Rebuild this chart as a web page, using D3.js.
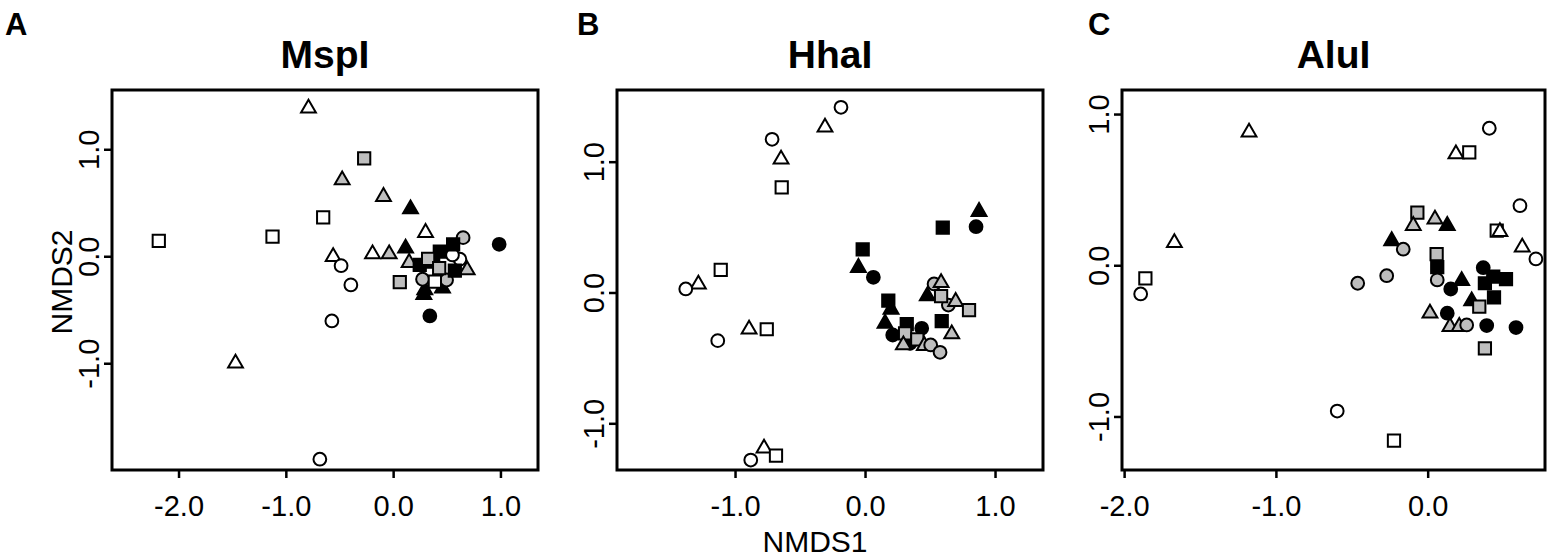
<!DOCTYPE html>
<html>
<head>
  <meta charset="utf-8">
  <title>NMDS</title>
  <style type="text/css">
    body { margin: 0; background: #fff; }
    text { font-family: "Liberation Sans", Arial, sans-serif; fill: #000; }
  </style>
</head>
<body>
<div id="my_dataviz"></div>
<script src="https://d3js.org/d3.v7.min.js"></script>
<script type="text/javascript">

// panel titles, letters and axes
var panelTitles = ["MspI", "HhaI", "AluI"];
var panelLetters = ["A", "B", "C"];
var xTicks = [[-2, -1, 0, 1], [-1, 0, 1], [-2, -1, 0]];
var yTicks = [[-1, 0, 1], [-1, 0, 1], [-1, 0, 1]];
var xLimits = [[-2.62, 1.35], [-1.908, 1.369], [-2.014, 0.773]];
var yLimits = [[-1.998, 1.554], [-1.357, 1.548], [-1.354, 1.159]];

// groups: o = open, g = grey, b = black ; c = circle, s = square, t = triangle
var groups = ["oc", "gc", "bc", "os", "gs", "bs", "ot", "gt", "bt"];

// NMDS scores [NMDS1, NMDS2, group]
var mspI = [
  [-0.789, 1.383, "ot"], [-0.270, 0.916, "gs"], [-0.475, 0.713, "gt"],
  [-0.090, 0.557, "gt"], [0.162, 0.442, "bt"], [-0.652, 0.364, "os"],
  [-1.124, 0.183, "os"], [-2.184, 0.143, "os"], [0.302, 0.221, "ot"],
  [-0.192, 0.021, "ot"], [-0.037, 0.021, "gt"], [-0.559, -0.004, "ot"],
  [-0.485, -0.088, "oc"], [-0.394, -0.268, "oc"], [-0.571, -0.605, "oc"],
  [-1.469, -1.0, "ot"], [-0.683, -1.897, "oc"], [0.062, -0.243, "gs"],
  [0.116, 0.075, "bt"], [0.149, -0.060, "gt"], [0.690, -0.128, "gt"],
  [0.652, 0.174, "gc"], [0.622, -0.028, "oc"], [0.553, 0.012, "oc"],
  [0.988, 0.112, "bc"], [0.342, -0.558, "bc"], [0.295, -0.315, "bt"],
  [0.286, -0.360, "bt"], [0.460, -0.299, "bt"], [0.274, -0.215, "gc"],
  [0.498, -0.222, "gc"], [0.389, -0.237, "os"], [0.248, -0.081, "bs"],
  [0.373, -0.050, "bs"], [0.435, 0.043, "bs"], [0.559, 0.112, "bs"],
  [0.575, -0.134, "bs"], [0.326, -0.025, "gs"], [0.429, -0.112, "gs"]
];

var hhaI = [
  [-0.185, 1.416, "oc"], [-0.308, 1.263, "ot"], [-0.715, 1.171, "oc"],
  [-0.646, 1.018, "ot"], [-0.641, 0.804, "os"], [-1.110, 0.172, "os"],
  [-1.282, 0.063, "ot"], [-1.379, 0.027, "oc"], [-0.892, -0.281, "ot"],
  [-0.756, -0.281, "os"], [-1.133, -0.368, "oc"], [-0.777, -1.191, "ot"],
  [-0.879, -1.281, "oc"], [-0.685, -1.247, "os"], [0.854, 0.503, "bc"],
  [0.877, 0.618, "bt"], [0.598, 0.495, "bs"], [-0.018, 0.330, "bs"],
  [-0.051, 0.190, "bt"], [0.064, 0.116, "bc"], [0.179, -0.062, "bs"],
  [0.200, -0.129, "bt"], [0.154, -0.236, "bt"], [0.213, -0.325, "bc"],
  [0.321, -0.241, "bs"], [0.436, -0.274, "bc"], [0.346, -0.389, "bc"],
  [0.590, -0.218, "bs"], [0.308, -0.312, "gs"], [0.295, -0.401, "gt"],
  [0.402, -0.358, "gs"], [0.456, -0.406, "gt"], [0.505, -0.401, "gc"],
  [0.577, -0.457, "gc"], [0.531, 0.065, "gc"], [0.585, 0.075, "gt"],
  [0.479, -0.027, "bt"], [0.641, -0.096, "gc"], [0.585, -0.027, "gs"],
  [0.697, -0.070, "gt"], [0.800, -0.134, "gs"], [0.667, -0.317, "gt"]
];

var aluI = [
  [-1.177, 0.880, "ot"], [-1.669, 0.149, "ot"], [-1.860, -0.086, "os"],
  [-1.891, -0.190, "oc"], [0.406, 0.906, "oc"], [0.186, 0.736, "ot"],
  [0.274, 0.747, "os"], [0.608, 0.394, "oc"], [0.455, 0.229, "os"],
  [0.476, 0.222, "ot"], [0.623, 0.119, "ot"], [0.713, 0.042, "oc"],
  [-0.596, -0.964, "oc"], [-0.222, -1.160, "os"], [-0.068, 0.348, "gs"],
  [-0.095, 0.262, "gt"], [0.048, 0.304, "gt"], [0.129, 0.262, "bt"],
  [-0.237, 0.161, "bt"], [-0.161, 0.106, "gc"], [0.063, -0.013, "bs"],
  [0.059, 0.073, "gs"], [0.063, -0.097, "gc"], [-0.270, -0.069, "gc"],
  [-0.461, -0.119, "gc"], [0.224, -0.102, "bt"], [0.152, -0.157, "bc"],
  [0.366, -0.016, "bc"], [0.377, -0.119, "bs"], [0.432, -0.075, "bs"],
  [0.516, -0.091, "bs"], [0.437, -0.212, "bs"], [0.290, -0.236, "bt"],
  [0.340, -0.274, "gs"], [0.129, -0.317, "bc"], [0.015, -0.317, "gt"],
  [0.147, -0.406, "gt"], [0.208, -0.406, "gt"], [0.257, -0.395, "gc"],
  [0.389, -0.399, "bc"], [0.582, -0.412, "bc"], [0.377, -0.549, "gs"]
];

var panelData = [mspI, hhaI, aluI];

// plot boxes in page pixels
var boxes = [
  {left: 112, right: 538, letterX: 5},
  {left: 617, right: 1043, letterX: 577},
  {left: 1122, right: 1545, letterX: 1088}
];
var plotTop = 90, plotBottom = 470;

var fillOf = {o: "#ffffff", g: "#bebebe", b: "#000000"};
var symbolOf = {c: d3.symbolCircle, s: d3.symbolSquare, t: d3.symbolTriangle};
var sizeOf = {c: 128, s: 150, t: 95};

var fmt = function(d) { return d3.format(".1f")(d).replace("\u2212", "-"); };

var svg = d3.select("#my_dataviz")
  .append("svg")
    .attr("width", 1548)
    .attr("height", 557);

svg.append("rect").attr("width", 1548).attr("height", 557).attr("fill", "#fff");

panelData.forEach(function(pts, i) {
  var b = boxes[i];
  var x = d3.scaleLinear().domain(xLimits[i]).range([b.left, b.right]);
  var y = d3.scaleLinear().domain(yLimits[i]).range([plotBottom, plotTop]);

  var g = svg.append("g");

  // x axis
  var xa = g.append("g")
    .attr("transform", "translate(0," + plotBottom + ")")
    .call(d3.axisBottom(x).tickValues(xTicks[i]).tickSize(8).tickPadding(17)
      .tickFormat(fmt));
  xa.select(".domain").remove();
  xa.attr("font-size", 29).attr("font-family", "Liberation Sans, Arial, sans-serif");
  xa.selectAll("line").attr("stroke", "#000").attr("stroke-width", 2.5);
  xa.selectAll("text").attr("fill", "#000");

  // y axis
  var ya = g.append("g")
    .attr("transform", "translate(" + b.left + ",0)")
    .call(d3.axisLeft(y).tickValues(yTicks[i]).tickSize(8).tickFormat(fmt));
  ya.select(".domain").remove();
  ya.attr("font-size", 29).attr("font-family", "Liberation Sans, Arial, sans-serif");
  ya.selectAll("line").attr("stroke", "#000").attr("stroke-width", 2.5);
  ya.selectAll("text")
    .attr("fill", "#000")
    .attr("x", 0).attr("dy", 0)
    .attr("text-anchor", "middle")
    .attr("transform", "translate(-13,0) rotate(-90)");

  // points
  g.append("g")
    .selectAll("path")
    .data(pts)
    .enter().append("path")
      .attr("transform", function(d) { return "translate(" + x(d[0]) + "," + y(d[1]) + ")"; })
      .attr("d", function(d) {
        var s = d[2].charAt(1);
        return d3.symbol().type(symbolOf[s]).size(sizeOf[s])();
      })
      .attr("fill", function(d) { return fillOf[d[2].charAt(0)]; })
      .attr("stroke", "#000")
      .attr("stroke-width", 2);

  // box
  g.append("rect")
    .attr("x", b.left).attr("y", plotTop)
    .attr("width", b.right - b.left).attr("height", plotBottom - plotTop)
    .attr("fill", "none").attr("stroke", "#000").attr("stroke-width", 3);

  // title
  g.append("text")
    .attr("x", (b.left + b.right) / 2).attr("y", 68)
    .attr("text-anchor", "middle")
    .attr("font-size", 39).attr("font-weight", "bold")
    .text(panelTitles[i]);

  // panel letter
  g.append("text")
    .attr("x", b.letterX).attr("y", 35)
    .attr("font-size", 31).attr("font-weight", "bold")
    .text(panelLetters[i]);
});

svg.append("text")
  .attr("x", 815).attr("y", 552)
  .attr("text-anchor", "middle")
  .attr("font-size", 30)
  .text("NMDS1");

svg.append("text")
  .attr("transform", "translate(72,282) rotate(-90)")
  .attr("text-anchor", "middle")
  .attr("font-size", 30)
  .text("NMDS2");

</script>
</body>
</html>
